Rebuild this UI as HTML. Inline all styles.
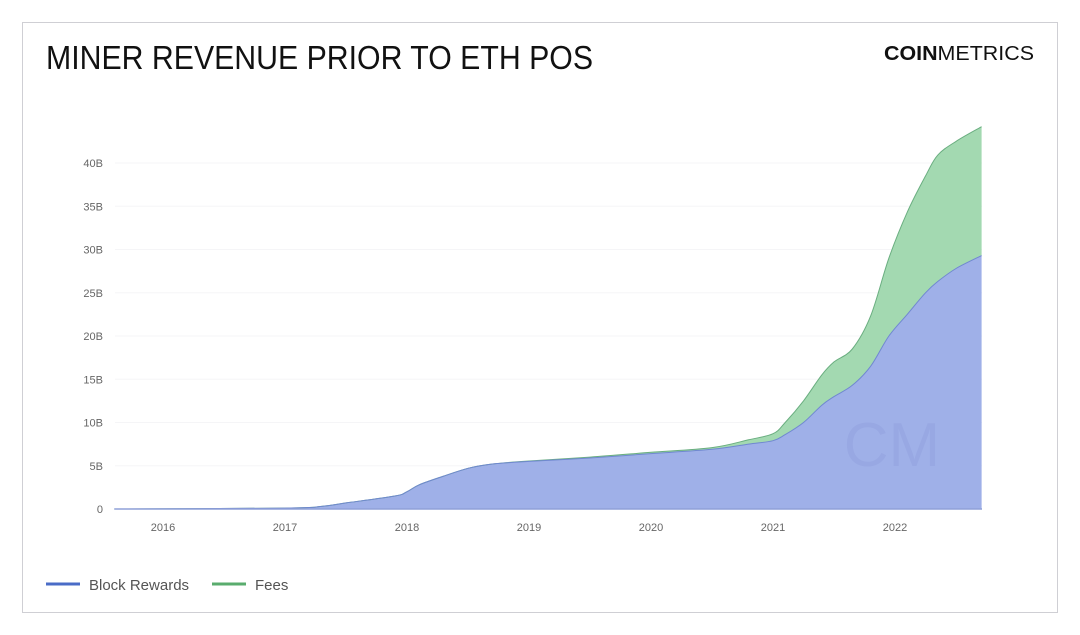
<!DOCTYPE html>
<html><head><meta charset="utf-8"><style>
html,body{margin:0;padding:0;background:#fff;}
svg{display:block;font-family:"Liberation Sans",sans-serif;}
</style></head><body>
<svg width="1080" height="635" viewBox="0 0 1080 635">
<rect x="22.5" y="22.5" width="1035" height="590" fill="#fff" stroke="#cfcfd4"/>
<text x="46" y="69" font-size="33" fill="#111" textLength="547" lengthAdjust="spacingAndGlyphs">MINER REVENUE PRIOR TO ETH POS</text>
<text x="884" y="60" font-size="20" fill="#111" textLength="150" lengthAdjust="spacingAndGlyphs"><tspan font-weight="bold">COIN</tspan><tspan>METRICS</tspan></text>
<g id="grid"></g>
<g id="areas"></g>
<text x="892" y="466" font-size="62" fill="#8a98d8" opacity="0.3" text-anchor="middle">CM</text>
<g id="axes"></g>
<g>
<line x1="46" y1="584" x2="80" y2="584" stroke="#4a6cc7" stroke-width="3"/>
<text x="89" y="590" font-size="15" fill="#555">Block Rewards</text>
<line x1="212" y1="584" x2="246" y2="584" stroke="#5aac6e" stroke-width="3"/>
<text x="255" y="590" font-size="15" fill="#555">Fees</text>
</g>
</svg>
<script>
const years = [2015.6,2017.0,2017.3,2017.5,2017.9,2018.0,2018.1,2018.3,2018.5,2018.7,2019.0,2019.5,2020.0,2020.5,2020.8,2021.0,2021.1,2021.25,2021.4,2021.5,2021.65,2021.8,2021.95,2022.1,2022.25,2022.35,2022.5,2022.71];
const rewards = [0,0.1,0.3,0.7,1.5,2.0,2.8,3.8,4.7,5.2,5.5,5.9,6.4,6.9,7.5,7.9,8.6,10,12,13,14.3,16.5,20,22.5,25,26.3,27.8,29.3];
const fees = [0,0,0,0,0,0,0,0,0,0,0.05,0.1,0.15,0.2,0.5,0.8,1.4,2.5,3.5,4,4.2,5.8,9,11.8,13.5,14.6,14.7,14.9];
const yTicks = [0,5,10,15,20,25,30,35,40];
const yTickLabels = ["0","5B","10B","15B","20B","25B","30B","35B","40B"];
const xTicks = [2016,2017,2018,2019,2020,2021,2022];
const xTickLabels = ["2016","2017","2018","2019","2020","2021","2022"];

const X0=115, X1=982, Y0=509, PXB=8.65;
const sx = y => 163 + (y-2016)*122;
const sy = v => Y0 - v*PXB;
const NS="http://www.w3.org/2000/svg";
const grid=document.getElementById('grid'), areas=document.getElementById('areas'), axes=document.getElementById('axes');
function mk(tag,attrs,parent){const e=document.createElementNS(NS,tag);for(const k in attrs)e.setAttribute(k,attrs[k]);parent.appendChild(e);return e;}

yTicks.forEach((v,i)=>{
  if(v>0){const l=mk('line',{x1:X0,x2:X1,y1:sy(v),y2:sy(v),stroke:'#f5f5f7'},grid);
  
  }
  const t=mk('text',{x:103,y:sy(v)+4,'font-size':11,fill:'#666','text-anchor':'end'},axes);
  t.textContent=yTickLabels[i];
  
  
});
xTicks.forEach((v,i)=>{
  const t=mk('text',{x:sx(v),y:531,'font-size':11,fill:'#666','text-anchor':'middle'},axes);
  t.textContent=xTickLabels[i];
  
  
});

const totals = rewards.map((r,i)=>r+fees[i]);
function pts(vals){return years.map((y,i)=>[sx(y),sy(vals[i])]);}
function smooth(p){ // catmull-rom to bezier
  let d='';
  for(let i=0;i<p.length-1;i++){
    const p0=p[Math.max(0,i-1)],p1=p[i],p2=p[i+1],p3=p[Math.min(p.length-1,i+2)];
    const c1=[p1[0]+(p2[0]-p0[0])/6,p1[1]+(p2[1]-p0[1])/6];
    const c2=[p2[0]-(p3[0]-p1[0])/6,p2[1]-(p3[1]-p1[1])/6];
    d+=' C'+c1.map(n=>n.toFixed(1))+' '+c2.map(n=>n.toFixed(1))+' '+p2.map(n=>n.toFixed(1));
  }
  return d;
}
const tp=pts(totals), rp=pts(rewards);
const tpath='M'+tp[0].join(',')+smooth(tp);
const rpath='M'+rp[0].join(',')+smooth(rp);
const rrev=rp.slice().reverse();
const feeArea=mk('path',{d:tpath+' L'+rrev[0].join(',')+smooth(rrev)+'Z',fill:'#a3d9b1'},areas);


const rwArea=mk('path',{d:'M'+sx(years[0])+','+Y0+' L'+rp[0].join(',')+smooth(rp)+' L'+sx(years[years.length-1])+','+Y0+'Z',fill:'#9fb0e8'},areas);


const tl=mk('path',{d:tpath,fill:'none',stroke:'#6aae80','stroke-width':1},areas);


const rl=mk('path',{d:rpath,fill:'none',stroke:'#7088d0','stroke-width':1},areas);


const base=mk('line',{x1:X0,x2:X1,y1:Y0,y2:Y0,stroke:'#8fa0d8','stroke-width':1.5},areas);


</script>
</body></html>
